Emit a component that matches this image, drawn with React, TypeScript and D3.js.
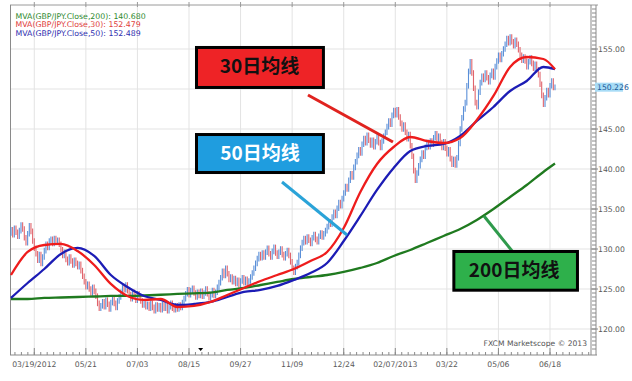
import React from 'react';
import * as d3 from 'd3';

// Daily closes of GBP/JPY
const firstOpen = 132.0;
const closes = [
  132.4, 131.8, 132.6, 132.1, 131.6,
  132.3, 133.0, 132.5, 131.4, 130.8, 131.9, 132.9, 132.2,
  131.0, 130.1, 129.4, 128.6, 129.3, 128.2, 129.0,
  129.8, 130.6, 130.2, 131.0,
  131.2, 130.7, 131.3, 130.9, 131.1, 130.6,
  129.9, 129.2, 129.6, 128.7, 128.3, 129.0, 128.5, 128.0, 128.6, 128.2, 127.8, 128.1,
  127.3, 126.6, 125.9, 125.3,
  125.6, 125.0, 124.5, 125.2, 124.7, 124.1,
  123.2, 122.6, 122.9,
  123.4, 122.8, 123.6, 123.1, 122.5, 123.3, 123.8, 123.2, 122.7, 123.5, 124.0,
  124.6, 125.3, 124.9, 125.5, 124.8,
  124.3, 123.8, 124.6, 124.1, 123.6, 124.4, 124.0,
  123.5, 123.0, 123.4, 122.8, 123.1,
  122.6, 123.2, 122.7, 122.3, 123.0, 122.5, 122.9,
  122.4, 123.1, 122.6, 122.9, 122.3, 122.8, 123.2, 122.6, 122.4, 122.9, 122.5, 123.0, 122.7, 123.3,
  123.8, 124.4, 124.9, 124.3, 124.8, 125.1, 124.5, 124.0, 124.6, 124.2,
  124.7, 124.1, 124.5, 125.0, 124.4, 123.9, 124.3, 124.8, 124.2, 124.6, 125.2, 125.8,
  126.4, 127.2, 126.7, 127.6, 126.9, 126.2,
  126.5, 125.9, 126.3, 125.7, 126.1, 125.5, 126.0, 126.4, 125.8, 126.2, 125.6, 126.0, 126.5, 127.0,
  127.6, 128.2, 128.8, 129.3, 128.9,
  129.5, 129.0, 129.6, 130.1, 129.4, 129.0, 129.7, 130.2, 129.5, 129.1, 129.6, 130.0, 129.3, 128.9, 129.4, 129.8, 129.2,
  128.4, 127.6, 127.1, 127.8, 128.3, 129.2,
  130.1, 130.8, 131.3, 130.9, 131.5, 131.1, 130.7, 131.4, 131.8, 131.2, 130.9, 131.6, 132.0, 131.5, 131.9, 132.3,
  132.8, 133.4, 133.1, 134.0, 134.6, 134.2, 135.1, 135.8, 135.4, 136.3,
  137.0, 137.8, 137.5, 138.6, 139.4, 139.0, 140.2,
  140.9, 141.7, 142.4, 142.0, 143.1, 143.8, 143.3, 144.2, 143.6,
  143.0, 143.6, 142.8, 143.4, 144.0, 143.3, 142.7, 143.5, 144.1, 144.6,
  145.3, 146.0, 145.6, 146.7, 147.3, 146.8, 147.4, 146.5,
  145.7, 145.0, 145.5, 144.6, 143.8, 144.3,
  142.9, 141.6, 139.8, 138.6, 139.5, 140.4,
  141.2, 142.0, 141.6, 142.7, 143.3, 142.8, 143.5,
  143.1, 143.9, 144.4, 143.6, 144.1, 143.3, 142.7, 143.4,
  142.6, 141.9, 142.4, 141.3, 140.6, 141.2, 140.5, 141.4,
  143.2, 145.0, 146.4, 147.5, 148.3,
  150.4, 152.2, 153.4, 152.0,
  150.1, 148.3, 147.8, 149.6,
  150.8, 151.6, 151.2, 152.0, 151.4, 150.9, 151.7, 152.2, 151.5,
  152.8, 153.5, 154.2, 153.7, 154.4, 155.0,
  155.6, 156.3, 155.8, 156.5, 155.9, 155.4, 156.1, 155.6, 154.9, 154.2, 153.6, 154.0,
  153.5, 152.8, 153.4, 153.9, 153.2, 152.6, 153.1, 152.4, 151.8,
  150.6, 149.2, 148.1, 148.9,
  149.8, 149.3, 150.4, 151.0, 150.2, 150.226,
];

// Moving averages, sampled at these bar indices
const maIndex = [0, 10, 20, 30, 40, 50, 60, 70, 80, 90, 100, 110, 120, 130, 140, 150, 160, 170, 180, 190, 200, 210, 220, 230, 240, 250, 260, 270, 280, 290, 300, 310, 320, 327];
const ma200 = [123.75, 123.75, 123.88, 123.94, 124.0, 124.06, 124.13, 124.13, 124.19, 124.28, 124.38, 124.46, 124.56, 124.88, 125.13, 125.5, 125.88, 126.25, 126.5, 126.75, 127.13, 127.63, 128.25, 129.13, 129.88, 130.75, 131.63, 132.5, 133.63, 135.0, 136.5, 138.0, 139.63, 140.68];
const ma30 = [126.75, 129.63, 130.5, 130.63, 129.75, 128.0, 125.63, 124.13, 123.63, 123.75, 122.75, 122.88, 123.38, 124.25, 125.13, 126.0, 126.75, 127.5, 128.5, 129.63, 132.63, 137.13, 140.63, 142.75, 144.0, 143.5, 143.25, 143.88, 146.13, 149.13, 152.75, 154.0, 153.75, 152.479];
const ma50 = [123.88, 125.75, 127.5, 129.38, 130.13, 129.13, 126.75, 125.25, 124.13, 123.63, 123.0, 123.13, 123.38, 124.0, 124.63, 124.88, 125.38, 126.13, 127.0, 128.25, 131.0, 134.13, 137.38, 140.13, 142.25, 142.88, 143.13, 144.13, 146.0, 147.75, 149.75, 151.0, 152.75, 152.489];

const xTickLabels = ['03/19/2012', '05/21', '07/03', '08/15', '09/27', '11/09', '12/24', '02/07/2013', '03/22', '05/06', '06/18'];
const xTickIndex = [14, 45, 76, 107, 138, 169, 200, 231, 262, 293, 324];
const yTicks = [120, 125, 130, 135, 140, 145, 150, 155];
const lastPrice = 150.226;

const legendLabels = ['MVA(GBP/JPY.Close,200): 140.680', 'MVA(GBP/JPY.Close,30): 152.479', 'MVA(GBP/JPY.Close,50): 152.489'];
const calloutLabels = ['30日均线', '50日均线', '200日均线'];

const FONT = "'DejaVu Sans', Verdana, sans-serif";
const CJK = "'Noto Sans CJK SC', 'Noto Sans', sans-serif";

export default function App() {
  const W = 632, H = 381;
  const plot = { left: 10, right: 591, top: 5, bottom: 355 };
  const x = d3.scaleLinear().domain([0, closes.length - 1]).range([11, 555]);
  const y = d3.scaleLinear().domain([120, 155]).range([329, 49]);
  const WICK = 0.35;

  const bars = closes.map((c, i) => {
    const o = i === 0 ? firstOpen : closes[i - 1];
    return { i, o, c, hi: Math.max(o, c) + WICK, lo: Math.min(o, c) - WICK };
  });

  const maLine = (vals: number[]) =>
    d3.line<number>().x((_, i) => x(maIndex[i])).y((v) => y(v)).curve(d3.curveMonotoneX)(vals) || '';

  const tickStep = 31 / 8;
  const minorX = d3.range(-4, 90).map((j) => xTickIndex[0] + j * tickStep).filter((v) => x(v) >= plot.left && x(v) <= plot.right + 4);
  const minorY = d3.range(117.5, 161, 0.5).filter((v) => y(v) >= plot.top && y(v) <= plot.bottom);
  // the 150.00 label sits under the last-price marker
  const yLabelTicks = yTicks.filter((t) => Math.abs(y(t) - y(lastPrice)) > 9);

  // callouts in data coordinates (bar index, price)
  const callouts = [
    { x1: 111.5, x2: 187.8, p1: 155.19, p2: 150.19, fill: '#ee2326', text: calloutLabels[0], tx: 149.4, tp: 152.875, tc: '#111' },
    { x1: 111.5, x2: 187.8, p1: 144.31, p2: 139.56, fill: '#1f9ddf', text: calloutLabels[1], tx: 149.7, tp: 141.94, tc: '#fff' },
    { x1: 266.2, x2: 340.5, p1: 129.69, p2: 124.85, fill: '#2eb04b', text: calloutLabels[2], tx: 302.4, tp: 127.375, tc: '#111' },
  ];
  const pointers = [
    { a: [178.5, 149.25], b: [229.6, 143.375], color: '#e0231f' },
    { a: [162.9, 138.375], b: [202.0, 131.75], color: '#2aa3d8' },
    { a: [284.3, 134.125], b: [301.2, 129.75], color: '#2f9a4c' },
  ];
  const legendColors = ['#2f8a2f', '#e0403a', '#3030b0'];
  const markerIdx = 114;

  return (
    <svg width={W} height={H} style={{ position: 'absolute', left: 0, top: 0, background: '#fff' }}>
      <rect x={0} y={0} width={W} height={H} fill="#fff" />
      {/* grid */}
      {yTicks.map((t) => (
        <line key={'gy' + t} x1={plot.left} x2={plot.right} y1={y(t)} y2={y(t)} stroke="#e3e3e3" strokeWidth={1} />
      ))}
      {xTickIndex.map((t) => (
        <line key={'gx' + t} x1={x(t)} x2={x(t)} y1={plot.top} y2={plot.bottom} stroke="#e3e3e3" strokeWidth={1} />
      ))}
      {/* frame */}
      <line x1={plot.left} x2={plot.right + 7} y1={plot.top} y2={plot.top} stroke="#9a9a9a" />
      {xTickIndex.map((t) => (
        <line key={'tt' + t} x1={x(t)} x2={x(t)} y1={plot.top - 3} y2={plot.top + 2} stroke="#9a9a9a" />
      ))}
      <line x1={plot.left + 0.5} x2={plot.left + 0.5} y1={plot.top} y2={plot.bottom} stroke="#8a8a8a" />
      <line x1={plot.right} x2={plot.right} y1={plot.top} y2={plot.bottom} stroke="#8a8a8a" />

      {/* price bars */}
      {bars.map((b) => (
        <line key={'b' + b.i} x1={x(b.i)} x2={x(b.i)} y1={y(b.hi)} y2={y(b.lo)}
          stroke={b.c >= b.o ? '#5a8fd8' : '#e0646c'} strokeWidth={1.1} />
      ))}

      {/* moving averages */}
      <path d={maLine(ma200)} fill="none" stroke="#1f7a1f" strokeWidth={2.3} />
      <path d={maLine(ma50)} fill="none" stroke="#1c1cb5" strokeWidth={2.3} />
      <path d={maLine(ma30)} fill="none" stroke="#ee1c1c" strokeWidth={2.3} />

      {/* legend */}
      {legendLabels.map((t, i) => (
        <text key={t} x={15.5} y={18.5 + i * 8.8} fontFamily={FONT} fontSize={7.8} fill={legendColors[i]}>{t}</text>
      ))}

      {/* pointers */}
      {pointers.map((p, i) => (
        <line key={'p' + i} x1={x(p.a[0])} y1={y(p.a[1])} x2={x(p.b[0])} y2={y(p.b[1])} stroke={p.color} strokeWidth={3} />
      ))}
      {/* callout boxes */}
      {callouts.map((c, i) => (
        <g key={'c' + i}>
          <rect x={x(c.x1)} y={y(c.p1)} width={x(c.x2) - x(c.x1)} height={y(c.p2) - y(c.p1)} fill={c.fill} stroke="#000" strokeWidth={3} />
          <text x={x(c.tx)} y={y(c.tp) + 7} textAnchor="middle" fontFamily={CJK} fontWeight={700} fontSize={19} fill={c.tc}>{c.text}</text>
        </g>
      ))}

      {/* x axis */}
      <line x1={plot.left} x2={plot.right + 6} y1={plot.bottom} y2={plot.bottom} stroke="#8a8a8a" />
      {minorX.map((t, i) => (
        <line key={'mx' + i} x1={x(t)} x2={x(t)} y1={plot.bottom - 3} y2={plot.bottom} stroke="#8a8a8a" />
      ))}
      {xTickIndex.map((t) => (
        <line key={'Mx' + t} x1={x(t)} x2={x(t)} y1={plot.bottom - 7} y2={plot.bottom} stroke="#8a8a8a" />
      ))}
      {xTickIndex.map((t, i) => (
        <text key={'lx' + t} x={x(t)} y={367} textAnchor="middle" fontFamily={FONT} fontSize={7.7} fill="#5a5a5a">{xTickLabels[i]}</text>
      ))}
      <path d={`M${x(markerIdx) - 2.5},${plot.bottom - 7}L${x(markerIdx) + 2.5},${plot.bottom - 7}L${x(markerIdx)},${plot.bottom - 4}Z`} fill="#000" />

      {/* y axis */}
      <line x1={plot.right + 5} x2={plot.right + 5} y1={plot.top} y2={plot.bottom} stroke="#8a8a8a" />
      {minorY.map((t, i) => (
        <line key={'my' + i} x1={plot.right + 1} x2={plot.right + 5} y1={y(t)} y2={y(t)} stroke="#8a8a8a" />
      ))}
      {yTicks.map((t) => (
        <line key={'My' + t} x1={plot.right} x2={plot.right + 7} y1={y(t)} y2={y(t)} stroke="#8a8a8a" />
      ))}
      {yLabelTicks.map((t) => (
        <text key={'ly' + t} x={598} y={y(t) + 3} fontFamily={FONT} fontSize={7.7} fill="#5a5a5a">{t.toFixed(2)}</text>
      ))}
      <rect x={595} y={y(lastPrice) - 4.5} width={28} height={9} fill="#a8dcf6" />
      <text x={597} y={y(lastPrice) + 3} fontFamily={FONT} fontSize={7.7} fill="#1a5a9a">{lastPrice.toFixed(3)}</text>

      <text x={587} y={346} textAnchor="end" fontFamily={FONT} fontSize={7.6} fill="#555">FXCM Marketscope © 2013</text>
    </svg>
  );
}
